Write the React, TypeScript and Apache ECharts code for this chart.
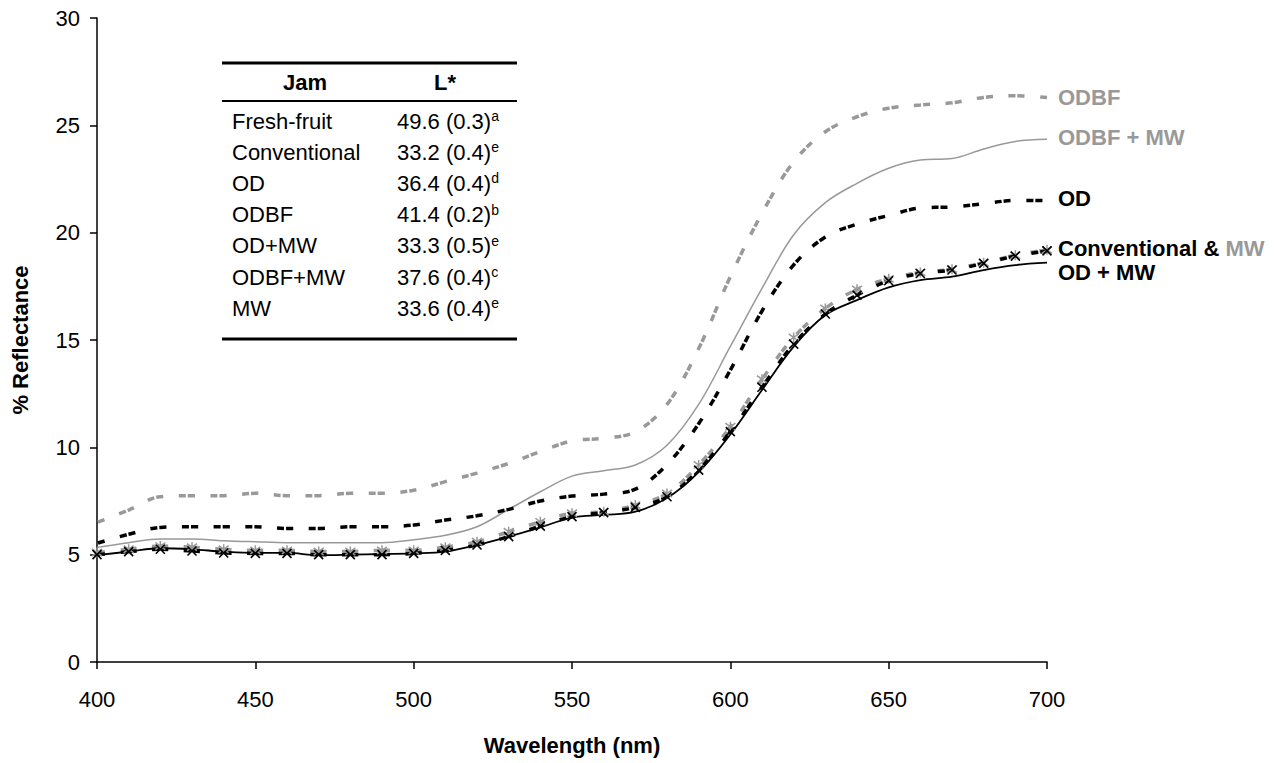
import React, { useEffect, useRef } from 'react';
import * as echarts from 'echarts';

const wavelength = [400, 410, 420, 430, 440, 450, 460, 470, 480, 490, 500, 510, 520, 530, 540, 550, 560, 570, 580, 590, 600, 610, 620, 630, 640, 650, 660, 670, 680, 690, 700];

const odbf = [6.5, 7.08, 7.7, 7.75, 7.75, 7.86, 7.75, 7.75, 7.86, 7.86, 8.0, 8.4, 8.8, 9.25, 9.8, 10.3, 10.42, 10.72, 12.0, 14.6, 17.95, 20.9, 23.3, 24.7, 25.4, 25.8, 25.95, 26.05, 26.3, 26.38, 26.3];
const odbfMw = [5.34, 5.56, 5.73, 5.73, 5.65, 5.6, 5.56, 5.56, 5.56, 5.56, 5.7, 5.9, 6.3, 7.11, 7.93, 8.66, 8.91, 9.18, 10.1, 12.0, 14.7, 17.4, 19.9, 21.4, 22.3, 23.0, 23.38, 23.45, 23.9, 24.25, 24.35];
const od = [5.53, 5.95, 6.27, 6.3, 6.3, 6.3, 6.22, 6.22, 6.3, 6.3, 6.38, 6.61, 6.81, 7.11, 7.5, 7.73, 7.82, 8.05, 9.2, 11.1, 13.6, 16.35, 18.5, 19.8, 20.4, 20.8, 21.15, 21.2, 21.35, 21.5, 21.5];
const conventional = [5.0, 5.14, 5.25, 5.17, 5.08, 5.06, 5.06, 5.0, 5.0, 5.0, 5.06, 5.2, 5.45, 5.84, 6.33, 6.77, 6.96, 7.2, 7.7, 8.94, 10.73, 12.8, 14.81, 16.21, 17.09, 17.76, 18.1, 18.26, 18.57, 18.91, 19.15];
const mw = [5.1, 5.25, 5.4, 5.35, 5.25, 5.2, 5.2, 5.15, 5.15, 5.2, 5.2, 5.35, 5.6, 6.07, 6.53, 6.93, 7.0, 7.31, 7.85, 9.18, 10.96, 13.17, 15.12, 16.47, 17.36, 17.85, 18.15, 18.3, 18.6, 18.95, 19.2];
const odMw = [4.98, 5.14, 5.3, 5.25, 5.14, 5.08, 5.08, 4.98, 5.0, 5.03, 5.06, 5.14, 5.45, 5.84, 6.27, 6.73, 6.85, 7.0, 7.64, 8.85, 10.6, 12.67, 14.69, 16.16, 16.86, 17.45, 17.79, 17.95, 18.26, 18.49, 18.6];

const tableHeader = ['Jam', 'L*'];
const jamNames = ['Fresh-fruit', 'Conventional', 'OD', 'ODBF', 'OD+MW', 'ODBF+MW', 'MW'];
const lValues = ['49.6 (0.3)', '33.2 (0.4)', '36.4 (0.4)', '41.4 (0.2)', '33.3 (0.5)', '37.6 (0.4)', '33.6 (0.4)'];
const lLetters = ['a', 'e', 'd', 'b', 'e', 'c', 'e'];

const FONT = '"Liberation Sans", Arial, Helvetica, sans-serif';
const GRAY = '#999999';

const pairs = (vals: number[]) => wavelength.map((w, i) => [w, vals[i]]);

export default function App() {
  const ref = useRef<HTMLDivElement>(null);
  useEffect(() => {
    if (!ref.current) return;
    const chart = echarts.init(ref.current, null, { renderer: 'svg' });
    const dash = [7, 2, 7, 15.7];
    const crossSym = 'path://M0,0L10,10M10,0L0,10';
    const starSym = 'path://M0,0L10,10M10,0L0,10M5,-2L5,12';

    const tableEls: any[] = [];
    tableEls.push({ type: 'rect', shape: { x: 222, y: 61.5, width: 295, height: 3 }, style: { fill: '#000' } });
    tableEls.push({ type: 'rect', shape: { x: 222, y: 100, width: 295, height: 2 }, style: { fill: '#000' } });
    tableEls.push({ type: 'rect', shape: { x: 222, y: 337.5, width: 295, height: 3 }, style: { fill: '#000' } });
    tableEls.push({ type: 'text', x: 305, y: 82, style: { text: tableHeader[0], fontFamily: FONT, fontSize: 22, fontWeight: 'bold', fill: '#000', align: 'center', verticalAlign: 'middle' } });
    tableEls.push({ type: 'text', x: 445, y: 82, style: { text: tableHeader[1], fontFamily: FONT, fontSize: 22, fontWeight: 'bold', fill: '#000', align: 'center', verticalAlign: 'middle' } });
    jamNames.forEach((name, i) => {
      const y = 121 + i * 31.2;
      tableEls.push({ type: 'text', x: 232, y, style: { text: name, fontFamily: FONT, fontSize: 22, fill: '#000', align: 'left', verticalAlign: 'middle' } });
      tableEls.push({
        type: 'text', x: 397, y,
        style: {
          text: `{v|${lValues[i]}}{s|${lLetters[i]}}`,
          align: 'left', verticalAlign: 'middle',
          rich: {
            v: { fontFamily: FONT, fontSize: 22, fill: '#000', lineHeight: 24 },
            s: { fontFamily: FONT, fontSize: 14, fill: '#000', verticalAlign: 'top', lineHeight: 14 },
          },
        },
      });
    });

    const labelStyle = (text: string, y: number, color: string) => ({
      type: 'text', x: 1058, y,
      style: { text, fontFamily: FONT, fontSize: 22, fontWeight: 'bold', fill: color, align: 'left', verticalAlign: 'middle' },
    });
    const rightLabels = [
      labelStyle('ODBF', 97, GRAY),
      labelStyle('ODBF + MW', 137, GRAY),
      labelStyle('OD', 198, '#000'),
      {
        type: 'text', x: 1058, y: 248,
        style: {
          text: '{b|Conventional & }{g|MW}', align: 'left', verticalAlign: 'middle',
          rich: {
            b: { fontFamily: FONT, fontSize: 22, fontWeight: 'bold', fill: '#000' },
            g: { fontFamily: FONT, fontSize: 22, fontWeight: 'bold', fill: GRAY },
          },
        },
      },
      labelStyle('OD + MW', 272, '#000'),
    ];

    const base = { type: 'line', smooth: 0.35, z: 2 };
    chart.setOption({
      animation: false,
      backgroundColor: '#ffffff',
      grid: { left: 97, top: 18, width: 950, height: 644, containLabel: false },
      xAxis: {
        type: 'value', min: 400, max: 700, interval: 50,
        name: 'Wavelength (nm)', nameLocation: 'middle', nameGap: 72,
        nameTextStyle: { fontFamily: FONT, fontSize: 22, fontWeight: 'bold', color: '#000' },
        axisLine: { show: true, lineStyle: { color: '#000', width: 1.5 } },
        axisTick: { show: true, length: 7, inside: false, lineStyle: { color: '#000', width: 1.5 } },
        axisLabel: { fontFamily: FONT, fontSize: 22, color: '#000', margin: 26 },
        splitLine: { show: false },
      },
      yAxis: {
        type: 'value', min: 0, max: 30, interval: 5,
        name: '% Reflectance', nameLocation: 'middle', nameGap: 66, nameRotate: 90,
        nameTextStyle: { fontFamily: FONT, fontSize: 22, fontWeight: 'bold', color: '#000' },
        axisLine: { show: true, lineStyle: { color: '#000', width: 1.5 } },
        axisTick: { show: true, length: 7, inside: false, lineStyle: { color: '#000', width: 1.5 } },
        axisLabel: { fontFamily: FONT, fontSize: 22, color: '#000', margin: 17 },
        splitLine: { show: false },
      },
      series: [
        { ...base, name: 'ODBF', data: pairs(odbf), symbol: 'none', lineStyle: { color: GRAY, width: 3.5, type: dash, dashOffset: 8 } },
        { ...base, name: 'ODBF + MW', data: pairs(odbfMw), symbol: 'none', lineStyle: { color: GRAY, width: 1.5 } },
        { ...base, name: 'OD', data: pairs(od), symbol: 'none', lineStyle: { color: '#000', width: 3.5, type: dash, dashOffset: 8 } },
        {
          ...base, name: 'MW', data: pairs(mw), symbol: starSym, symbolSize: 10, showSymbol: true,
          itemStyle: { color: GRAY, borderColor: GRAY, borderWidth: 1.5 },
          lineStyle: { color: GRAY, width: 3.5, type: dash, dashOffset: 8 },
        },
        {
          ...base, name: 'Conventional', data: pairs(conventional), symbol: crossSym, symbolSize: 9, showSymbol: true,
          itemStyle: { color: '#000', borderColor: '#000', borderWidth: 1.6 },
          lineStyle: { color: '#000', width: 3.5, type: dash, dashOffset: 8 },
        },
        { ...base, name: 'OD + MW', data: pairs(odMw), symbol: 'none', lineStyle: { color: '#000', width: 1.8 } },
      ],
      graphic: [...tableEls, ...rightLabels],
    });
    return () => chart.dispose();
  }, []);
  return <div ref={ref} style={{ position: 'fixed', left: 0, top: 0, width: 1274, height: 763, background: '#fff' }} />;
}
